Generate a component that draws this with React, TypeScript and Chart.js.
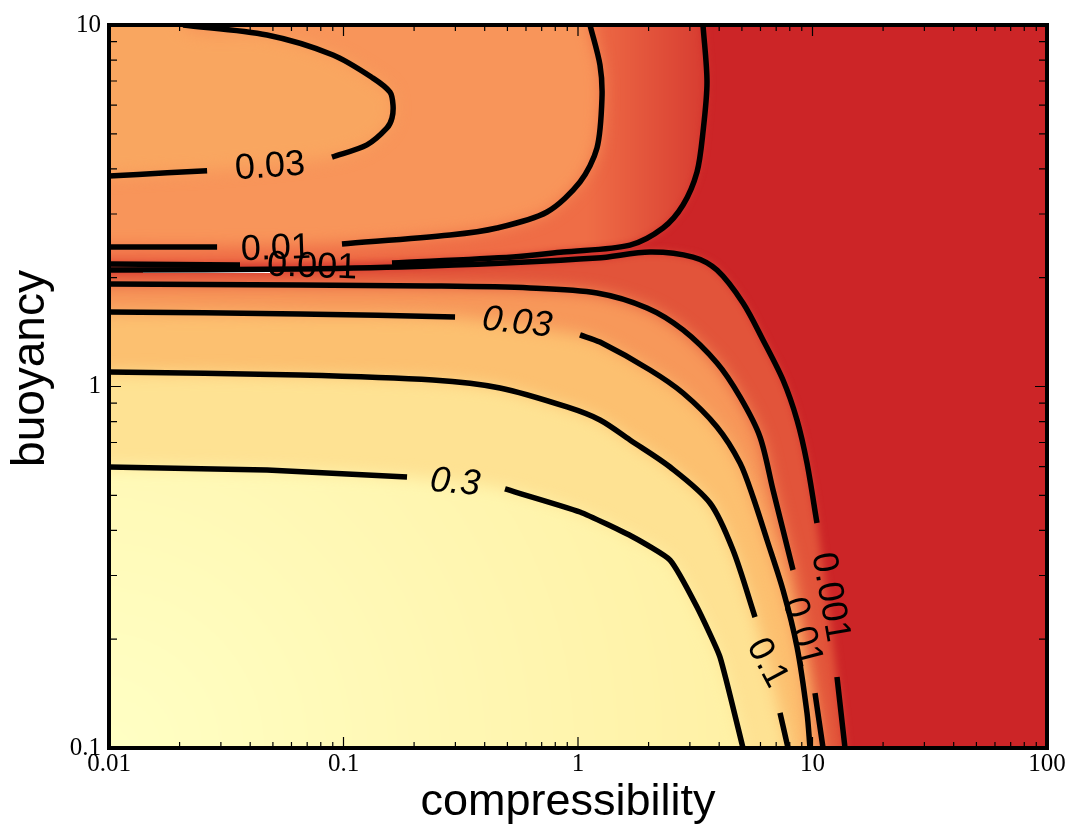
import React, { useEffect, useRef } from 'react';
import { Chart, registerables } from 'chart.js';

// ---------------- data ----------------
const xMajorTicks = [0.01, 0.1, 1, 10, 100];
const xTickLabels = ['0.01', '0.1', '1', '10', '100'];
const yMajorTicks = [0.1, 1, 10];
const yTickLabels = ['0.1', '1', '10'];
const minorMultipliers = [2, 3, 4, 5, 6, 7, 8, 9];

const xTitle = 'compressibility';
const yTitle = 'buoyancy';

// contour lines as [compressibility, buoyancy]; null = gap left for the inline label
const contour003Upper: [number, number | null][] = [
  [0.0207, 10], [0.0472, 9.38], [0.0902, 8.26], [0.1336, 7.13], [0.1579, 6.52], [0.1626, 6.01],
  [0.161, 5.53], [0.1533, 5.19], [0.1259, 4.66], [0.0893, 4.31], [0.05, null], [0.0262, 3.95],
  [0.0177, 3.9], [0.01, 3.82],
];
const contour001Upper: [number, number | null][] = [
  [0.01, 2.431], [0.0289, 2.431], [0.055, null], [0.0985, 2.478], [0.2846, 2.624], [0.4515, 2.744],
  [0.7377, 3.039], [1.02, 3.679], [1.205, 4.568], [1.2655, 6.283], [1.2409, 7.75], [1.125, 10],
];
const contour0001Upper: [number, number | null][] = [
  [0.01, 2.181], [0.0362, 2.167], [0.08, null], [0.161, 2.195], [0.5282, 2.281], [0.863, 2.355],
  [1.666, 2.462], [2.304, 2.744], [2.804, 3.177], [3.2175, 3.921], [3.412, 5.058], [3.549, 6.955],
  [3.412, 10],
];
const contour0001Lower: [number, number | null][] = [
  [0.01, 2.099], [0.0653, 2.113], [0.2338, 2.153], [1.205, 2.266], [2.0277, 2.355], [3.093, 2.281],
  [3.915, 2.099], [5.054, 1.702], [6.15, 1.345], [7.486, 1.042], [8.59, 0.808], [9.474, 0.614],
  [10.45, 0.419], [11.5, null], [12.72, 0.1572], [13.76, 0.1],
];
const contour001Lower: [number, number | null][] = [
  [0.01, 1.92], [0.0653, 1.908], [0.2338, 1.897], [0.6242, 1.873], [1.205, 1.814], [1.969, 1.649],
  [2.804, 1.434], [3.915, 1.161], [4.9075, 0.9354], [5.972, 0.7251], [6.786, 0.5173], [7.486, 0.4009],
  [8.259, 0.3107], [9.2, null], [10.25, 0.1419], [11.09, 0.1],
];
const contour003Lower: [number, number | null][] = [
  [0.01, 1.608], [0.0653, 1.588], [0.299, 1.558], [0.6, null], [1.0198, 1.389], [1.2409, 1.327],
  [2.0277, 1.111], [2.804, 0.9594], [3.915, 0.7727], [4.9075, 0.6143], [5.576, 0.4947], [6.397, 0.3762],
  [7.486, 0.2735], [8.59, 0.1903], [9.474, 0.125], [9.758, 0.1],
];
const contour01: [number, number | null][] = [
  [0.01, 1.097], [0.0653, 1.076], [0.2408, 1.042], [0.4649, 0.9905], [0.8977, 0.8777], [1.2409, 0.8079],
  [1.6663, 0.7114], [2.469, 0.5988], [3.655, 0.4762], [4.581, 0.3528], [5.686, 0.2303], [6.4, null],
  [7.269, 0.125], [7.863, 0.1],
];
const contour03: [number, number | null][] = [
  [0.01, 0.5988], [0.0472, 0.5875], [0.1866, 0.5618], [0.3, null], [0.4883, 0.5206], [1.0198, 0.4497],
  [1.7165, 0.3834], [2.469, 0.3311], [3.2175, 0.2455], [4.032, 0.1785], [5.054, 0.1],
];
const whiteStreak: [number, number][] = [[0.01396, 2.073], [0.0486, 2.073]];

// inline contour labels
const contourLabels = ['0.03', '0.01', '0.001', '0.03', '0.3', '0.1', '0.01', '0.001'];
const labelX = [0.0486, 0.0515, 0.0734, 0.5495, 0.299, 6.397, 9.02, 11.87];
const labelY = [4.047, 2.401, 2.14, 1.499, 0.541, 0.1718, 0.2094, 0.2616];

// ---------------- styles ----------------
const labelAngle = [-4, -2, 2, 6, 5, 62, 75, 80];
const labelItalic = [false, false, false, true, true, false, false, false];
const bgRed = '#cc2527';
const lineTension = 0.3;

const blurPlugin = {
  id: 'bandBlur',
  beforeDatasetsDraw(chart: any) {
    const { ctx, chartArea: a } = chart;
    ctx.save();
    ctx.fillStyle = bgRed;
    ctx.fillRect(a.left, a.top, a.right - a.left, a.bottom - a.top);
    ctx.restore();
  },
  beforeDatasetDraw(chart: any, args: any) {
    const ds = chart.data.datasets[args.index];
    if (ds && ds.blurRadius) {
      chart.ctx.save();
      chart.ctx.filter = `blur(${ds.blurRadius}px)`;
    }
  },
  afterDatasetDraw(chart: any, args: any) {
    const ds = chart.data.datasets[args.index];
    if (ds && ds.blurRadius) chart.ctx.restore();
  },
};

Chart.register(blurPlugin);
Chart.register(...registerables);

const toPts = (arr: [number, number | null][]) => arr.map(([x, y]) => ({ x, y }));
const solid = (arr: [number, number | null][]) => arr.filter((p) => p[1] !== null) as [number, number][];

const upperRegion = (arr: [number, number | null][]) => {
  const p = solid(arr);
  return toPts([[0.005, p[0][1]], ...p, [p[p.length - 1][0], 20], [0.005, 20]]);
};
const loopRegion = (arr: [number, number | null][]) => {
  const p = solid(arr);
  return toPts([[p[0][0], 20], ...p, [0.005, p[p.length - 1][1]], [0.005, 20]]);
};
const lowerRegion = (arr: [number, number | null][]) => {
  const p = solid(arr);
  return toPts([[0.005, p[0][1]], ...p, [p[p.length - 1][0] * 1.02, 0.05], [0.005, 0.05]]);
};

const allTicks = (majors: number[]) => {
  const t: number[] = [];
  majors.forEach((m, i) => {
    t.push(m);
    if (i < majors.length - 1) minorMultipliers.forEach((k) => t.push(m * k));
  });
  return t;
};

export default function App() {
  const ref = useRef<HTMLCanvasElement>(null);

  useEffect(() => {
    if (!ref.current) return;

    const lineDs = (arr: [number, number | null][], color = '#000', width = 5.5, tension = lineTension) => ({
      data: toPts(arr),
      borderColor: color,
      borderWidth: width,
      borderJoinStyle: 'round',
      pointRadius: 0,
      pointHoverRadius: 0,
      fill: false,
      spanGaps: false,
      tension,
    });
    const fillDs = (data: any[], color: any, blurRadius = 8) => ({
      blurRadius,
      data,
      borderWidth: 0,
      borderColor: 'rgba(0,0,0,0)',
      backgroundColor: color,
      pointRadius: 0,
      pointHoverRadius: 0,
      fill: 'shape',
      tension: lineTension,
      capBezierPoints: false,
    });

    const innerGradient = (c: any) => {
      const ch = c.chart;
      const a = ch.chartArea;
      if (!a) return '#fff4ad';
      const g = ch.ctx.createRadialGradient(a.left, a.bottom, 0, a.left, a.bottom, 620);
      g.addColorStop(0, '#ffffc4');
      g.addColorStop(1, '#fff1a6');
      return g;
    };
    const upperStripGradient = (c: any) => {
      const ch = c.chart;
      const a = ch.chartArea;
      if (!a) return '#e9603f';
      const xs = ch.scales.x;
      const x0 = xs.getPixelForValue(1.1);
      const x1 = xs.getPixelForValue(3.5);
      const g = ch.ctx.createLinearGradient(x0, 0, x1, 0);
      g.addColorStop(0, '#ef6d46');
      g.addColorStop(1, '#d73c31');
      return g;
    };

    const datasets: any[] = [
      lineDs(contour003Upper),
      lineDs(contour001Upper),
      lineDs(contour0001Upper),
      lineDs(contour0001Lower),
      lineDs(contour001Lower),
      lineDs(contour003Lower),
      lineDs(contour01),
      lineDs(contour03, '#000', 5.5, 0.15),
      lineDs(whiteStreak, '#ffffff', 2, 0),
      fillDs(lowerRegion(contour03), innerGradient),
      fillDs(lowerRegion(contour01), '#fee293'),
      fillDs(lowerRegion(contour003Lower), '#fcc070'),
      fillDs(lowerRegion(contour001Lower), '#f7985a'),
      fillDs(lowerRegion(contour0001Lower), '#e2543a', 4),
      fillDs(loopRegion(contour003Upper), '#f9a660'),
      fillDs(upperRegion(contour001Upper), '#f8955a'),
      fillDs(upperRegion(contour0001Upper), upperStripGradient, 4),
    ];

    const xAll = allTicks(xMajorTicks);
    const yAll = allTicks(yMajorTicks);

    const overlayPlugin = {
      id: 'overlay',
      afterDatasetsDraw(chart: any) {
        const { ctx, chartArea: a, scales } = chart;
        const xs = scales.x;
        const ys = scales.y;
        ctx.save();
        // inline labels
        ctx.fillStyle = '#000';
        ctx.textAlign = 'center';
        ctx.textBaseline = 'middle';
        contourLabels.forEach((txt, i) => {
          const px = xs.getPixelForValue(labelX[i]);
          const py = ys.getPixelForValue(labelY[i]);
          ctx.save();
          ctx.translate(px, py);
          ctx.rotate((labelAngle[i] * Math.PI) / 180);
          ctx.font = `${labelItalic[i] ? 'italic ' : ''}36px "Liberation Sans", Arial, sans-serif`;
          ctx.fillText(txt, 0, 0);
          ctx.restore();
        });
        // inward ticks
        ctx.strokeStyle = '#000';
        ctx.lineWidth = 1.2;
        ctx.beginPath();
        xs.ticks.forEach((t: any) => {
          const px = xs.getPixelForValue(t.value);
          const len = xMajorTicks.includes(t.value) ? 11 : 6;
          ctx.moveTo(px, a.bottom);
          ctx.lineTo(px, a.bottom - len);
          ctx.moveTo(px, a.top);
          ctx.lineTo(px, a.top + len);
        });
        ys.ticks.forEach((t: any) => {
          const py = ys.getPixelForValue(t.value);
          const len = yMajorTicks.includes(t.value) ? 12 : 8;
          ctx.moveTo(a.left, py);
          ctx.lineTo(a.left + len, py);
          ctx.moveTo(a.right, py);
          ctx.lineTo(a.right - len, py);
        });
        ctx.stroke();
        // frame
        ctx.lineWidth = 4;
        ctx.strokeRect(a.left, a.top, a.right - a.left, a.bottom - a.top);
        ctx.restore();
      },
      afterDraw(chart: any) {
        const { ctx, chartArea: a } = chart;
        ctx.save();
        ctx.fillStyle = '#000';
        ctx.textAlign = 'center';
        ctx.textBaseline = 'alphabetic';
        ctx.font = '45px "Liberation Sans", Arial, sans-serif';
        ctx.fillText(xTitle, (a.left + a.right) / 2 - 10, a.bottom + 67);
        ctx.translate(44, (a.top + a.bottom) / 2 - 18);
        ctx.rotate(-Math.PI / 2);
        ctx.font = '46px "Liberation Sans", Arial, sans-serif';
        ctx.fillText(yTitle, 0, 0);
        ctx.restore();
      },
    };

    const tickFont = { family: '"Liberation Serif", "Times New Roman", serif', size: 25 };

    const chart = new Chart(ref.current, {
      type: 'line',
      data: { datasets },
      plugins: [overlayPlugin],
      options: {
        animation: false,
        responsive: true,
        maintainAspectRatio: false,
        events: [],
        layout: { padding: { top: 25, right: 27, left: 0, bottom: 0 } },
        plugins: {
          legend: { display: false },
          tooltip: { enabled: false },
          filler: { propagate: false },
        },
        scales: {
          x: {
            type: 'logarithmic',
            min: 0.01,
            max: 100,
            grid: { display: false, drawTicks: false },
            border: { display: false },
            afterBuildTicks: (s: any) => {
              s.ticks = xAll.map((v) => ({ value: v, major: xMajorTicks.includes(v) }));
            },
            afterFit: (s: any) => {
              s.height = 77;
            },
            ticks: {
              autoSkip: false,
              maxRotation: 0,
              minRotation: 0,
              padding: 1,
              color: '#000',
              font: tickFont,
              callback: (v: any) => {
                const i = xMajorTicks.indexOf(Number(v));
                return i >= 0 ? xTickLabels[i] : '';
              },
            },
          },
          y: {
            type: 'logarithmic',
            min: 0.1,
            max: 10,
            grid: { display: false, drawTicks: false },
            border: { display: false },
            afterBuildTicks: (s: any) => {
              s.ticks = yAll.map((v) => ({ value: v, major: yMajorTicks.includes(v) }));
            },
            afterFit: (s: any) => {
              s.width = 109;
            },
            ticks: {
              autoSkip: false,
              padding: 8,
              color: '#000',
              font: tickFont,
              callback: (v: any) => {
                const i = yMajorTicks.indexOf(Number(v));
                return i >= 0 ? yTickLabels[i] : '';
              },
            },
          },
        },
      } as any,
    });

    return () => chart.destroy();
  }, []);

  return (
    <div style={{ position: 'fixed', left: 0, top: 0, width: '1074px', height: '825px' }}>
      <canvas ref={ref} />
    </div>
  );
}
